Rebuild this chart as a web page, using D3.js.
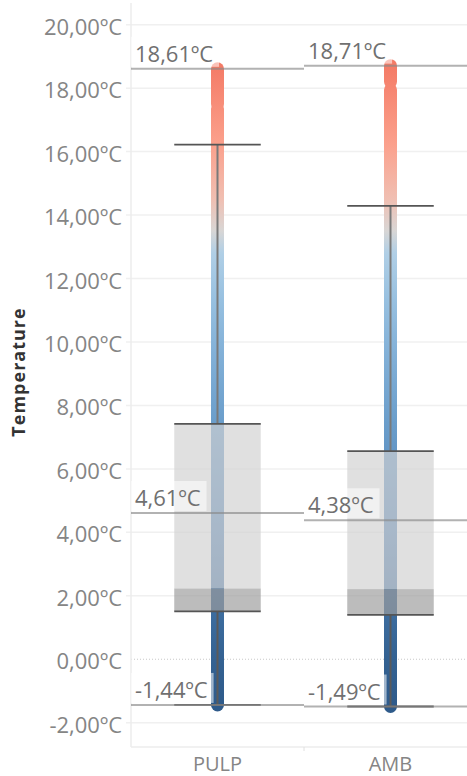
<!DOCTYPE html>
<html>
<head>
<meta charset="utf-8">
<script src="https://cdn.jsdelivr.net/npm/d3@7"></script>
<style>
  html, body { margin: 0; padding: 0; background: #fff; }
  svg { display: block; font-family: "Open Sans", sans-serif; }
</style>
</head>
<body>
<svg id="chart" width="467" height="776"></svg>
<script>
// Temperature distribution per sensor
const categories = ["PULP", "AMB"];
const minVals    = [-1.44, -1.49];
const maxVals    = [18.61, 18.71];
const avgVals    = [4.61, 4.38];
const q1Vals     = [1.51, 1.40];
const medianVals = [2.23, 2.21];
const q3Vals     = [7.42, 6.56];
const whiskerHi  = [16.22, 14.29];
const whiskerLo  = [-1.44, -1.49];
// ranges of readings covered by the dense point strips
const pointRanges = [
  [[-1.44, 17.35], [17.50, 18.61]],
  [[-1.49, 17.95], [18.20, 18.71]]
];
const yTicks = [-2, 0, 2, 4, 6, 8, 10, 12, 14, 16, 18, 20];

// diverging temperature colour scale
const tempStops  = [-1.5, 0, 1.5, 4.5, 7.5, 9.7, 11.3, 12.8, 13.5, 14.5, 16.2, 18.7];
const tempColors = ["#2e5a8a", "#346292", "#3d6d9f", "#5486bb", "#6b9ecb", "#83b1d8",
                    "#97c0e0", "#b0cfe6", "#d8d6d5", "#f0bfb2", "#fba18d", "#f47b66"];

const locale = d3.formatLocale({decimal: ",", thousands: ".", grouping: [3], currency: ["", ""], minus: "-"});
const fmt = v => locale.format(".2f")(v) + "ºC";

const svg = d3.select("#chart");
const plotLeft = 131, plotTop = 3, plotBottom = 747;

const y = d3.scaleLinear().domain([-2, 20]).range([722.7, 24.7]);
const x = d3.scaleBand().domain(categories).range([plotLeft, 477]);
const color = d3.scaleLinear().domain(tempStops).range(tempColors);

// gradient running along the temperature axis
const defs = svg.append("defs");
const grad = defs.append("linearGradient")
  .attr("id", "tempGrad")
  .attr("gradientUnits", "userSpaceOnUse")
  .attr("x1", 0).attr("x2", 0)
  .attr("y1", y(tempStops[0])).attr("y2", y(tempStops[tempStops.length - 1]));
tempStops.forEach((t, i) => {
  grad.append("stop")
    .attr("offset", (t - tempStops[0]) / (tempStops[tempStops.length - 1] - tempStops[0]))
    .attr("stop-color", color(t));
});

// gridlines
svg.append("g").selectAll("line")
  .data(yTicks.filter(d => d !== 0))
  .join("line")
  .attr("x1", 126).attr("x2", 467)
  .attr("y1", d => y(d)).attr("y2", d => y(d))
  .attr("stroke", "#f0f0f0").attr("stroke-width", 1.5);

// zero line
svg.append("line")
  .attr("x1", plotLeft).attr("x2", 467)
  .attr("y1", y(0)).attr("y2", y(0))
  .attr("stroke", "#c8c8c8").attr("stroke-width", 1)
  .attr("stroke-dasharray", "1,2");

// axis frame
svg.append("line")
  .attr("x1", plotLeft).attr("x2", plotLeft)
  .attr("y1", plotTop).attr("y2", plotBottom)
  .attr("stroke", "#ececec").attr("stroke-width", 1.5);
svg.append("line")
  .attr("x1", plotLeft).attr("x2", 467)
  .attr("y1", plotBottom).attr("y2", plotBottom)
  .attr("stroke", "#ececec").attr("stroke-width", 1.5);
svg.append("line")
  .attr("x1", x.step() + plotLeft).attr("x2", x.step() + plotLeft)
  .attr("y1", plotBottom).attr("y2", plotBottom + 4)
  .attr("stroke", "#e0e0e0").attr("stroke-width", 1);

// y axis labels
svg.append("g").selectAll("text")
  .data(yTicks)
  .join("text")
  .attr("x", 122)
  .attr("y", d => y(d) + 1)
  .attr("text-anchor", "end")
  .attr("dominant-baseline", "central")
  .attr("font-size", 22)
  .attr("fill", "#858585")
  .text(d => fmt(d));

// axis title
svg.append("text")
  .attr("transform", "translate(25,372) rotate(-90)")
  .attr("text-anchor", "middle")
  .attr("font-size", 18)
  .attr("font-weight", 700)
  .attr("letter-spacing", 1)
  .attr("fill", "#333")
  .text("Temperature");

// x labels
svg.append("g").selectAll("text")
  .data(categories)
  .join("text")
  .attr("x", d => x(d) + x.bandwidth() / 2)
  .attr("y", 771)
  .attr("text-anchor", "middle")
  .attr("font-size", 20)
  .attr("fill", "#858585")
  .text(d => d);

const R = 6.5;
const boxW = x.bandwidth() / 2;

categories.forEach((cat, i) => {
  const cx = x(cat) + x.bandwidth() / 2;
  const g = svg.append("g");

  // point strips
  g.selectAll("rect.pts")
    .data(pointRanges[i])
    .join("rect")
    .attr("class", "pts")
    .attr("x", cx - R)
    .attr("y", d => y(d[1]) - R)
    .attr("width", 2 * R)
    .attr("height", d => y(d[0]) - y(d[1]) + 2 * R)
    .attr("rx", R)
    .attr("fill", "url(#tempGrad)");

  // box: upper part (median..Q3) and lower part (Q1..median)
  g.append("rect")
    .attr("x", cx - boxW / 2).attr("width", boxW)
    .attr("y", y(q3Vals[i])).attr("height", y(medianVals[i]) - y(q3Vals[i]))
    .attr("fill", "#d2d2d2").attr("fill-opacity", 0.68);
  g.append("rect")
    .attr("x", cx - boxW / 2).attr("width", boxW)
    .attr("y", y(medianVals[i])).attr("height", y(q1Vals[i]) - y(medianVals[i]))
    .attr("fill", "#9c9c9c").attr("fill-opacity", 0.68);

  // whisker stems
  g.append("line")
    .attr("x1", cx).attr("x2", cx)
    .attr("y1", y(q3Vals[i])).attr("y2", y(whiskerHi[i]))
    .attr("stroke", "#7a7a7a").attr("stroke-width", 2);
  g.append("line")
    .attr("x1", cx).attr("x2", cx)
    .attr("y1", y(q1Vals[i])).attr("y2", y(whiskerLo[i]))
    .attr("stroke", "#5a5a5a").attr("stroke-width", 2);

  // box edges and whisker caps
  [q3Vals[i], q1Vals[i], whiskerHi[i], whiskerLo[i]].forEach(v => {
    g.append("line")
      .attr("x1", cx - boxW / 2).attr("x2", cx + boxW / 2)
      .attr("y1", y(v)).attr("y2", y(v))
      .attr("stroke", "#555").attr("stroke-width", 1.8);
  });

  // reference lines with labels
  const x0 = x(cat), x1 = x(cat) + x.step();
  [maxVals[i], avgVals[i], minVals[i]].forEach(v => {
    g.append("line")
      .attr("x1", x0).attr("x2", x1)
      .attr("y1", y(v)).attr("y2", y(v))
      .attr("stroke", "#888").attr("stroke-opacity", 0.65).attr("stroke-width", 2);
    const bg = g.append("rect")
      .attr("fill", "#fff").attr("fill-opacity", 0.55);
    const t = g.append("text")
      .attr("x", x0 + 4)
      .attr("y", y(v) - 7)
      .attr("font-size", 22)
      .attr("fill", "#707070")
      .text(fmt(v));
    const w = t.node().getComputedTextLength();
    bg.attr("x", x0).attr("width", w + 10)
      .attr("y", y(v) - 32).attr("height", 30);
  });
});
</script>
</body>
</html>
